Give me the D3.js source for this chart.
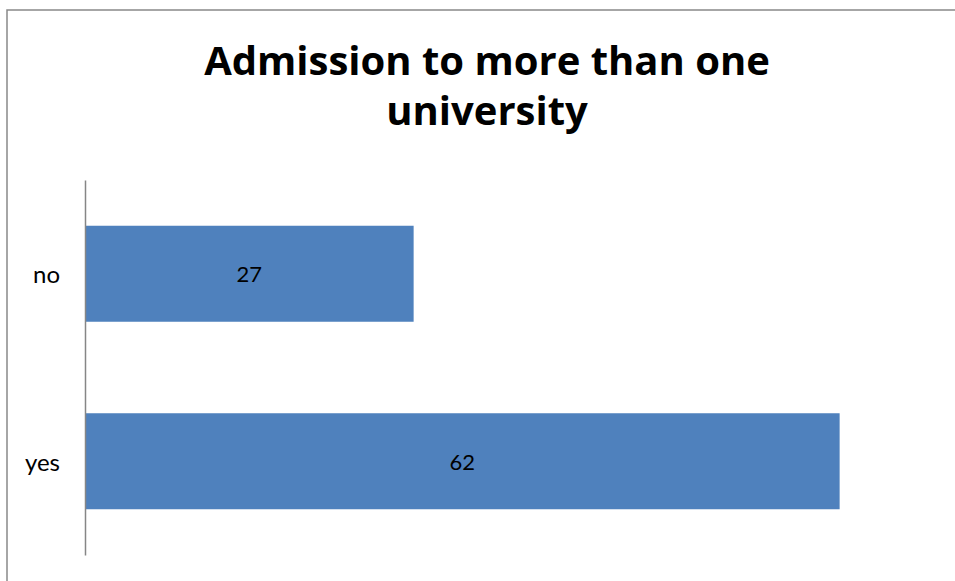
<!DOCTYPE html>
<html>
<head>
<meta charset="utf-8">
<script src="https://cdn.jsdelivr.net/npm/d3@7"></script>
<style>
  body { margin: 0; background: #fff; }
  text { font-family: "Lato", "Open Sans", sans-serif; }
</style>
</head>
<body>
<svg id="chart" width="955" height="581"></svg>
<script>
// data
var categories = ["no", "yes"];
var values = [27, 62];
var titleLines = ["Admission to more than one", "university"];

var svg = d3.select("#chart");

// outer frame (only top and left visible in the crop)
svg.append("path")
  .attr("d", "M7,581 V10 H955")
  .attr("fill", "none")
  .attr("stroke", "#898989")
  .attr("stroke-width", 1.5);

// title
svg.append("g").selectAll("text")
  .data(titleLines)
  .enter().append("text")
  .attr("x", 487)
  .attr("y", function(d, i) { return 75 + i * 50; })
  .attr("text-anchor", "middle")
  .attr("font-size", 40)
  .attr("font-weight", "bold")
  .attr("fill", "#000")
  .style("font-family", "'Open Sans', sans-serif")
  .text(function(d) { return d; });

// scales
var x = d3.scaleLinear().domain([0, 70]).range([85, 937]);
var y = d3.scaleBand().domain(categories).range([180, 555]).paddingInner(0.488).paddingOuter(0.244);

// bars
svg.append("g").selectAll("rect")
  .data(values)
  .enter().append("rect")
  .attr("x", x(0))
  .attr("y", function(d, i) { return y(categories[i]); })
  .attr("width", function(d) { return x(d) - x(0); })
  .attr("height", y.bandwidth())
  .attr("fill", "#4F81BD");

// value labels
svg.append("g").selectAll("text")
  .data(values)
  .enter().append("text")
  .attr("x", function(d) { return (x(0) + x(d)) / 2; })
  .attr("y", function(d, i) { return y(categories[i]) + y.bandwidth() / 2 + 1; })
  .attr("dy", "0.35em")
  .attr("text-anchor", "middle")
  .attr("font-size", 22)
  .attr("fill", "#000")
  .text(function(d) { return d; });

// category axis
var yAxis = d3.axisLeft(y).tickSize(0).tickPadding(25);
var ga = svg.append("g")
  .attr("transform", "translate(" + x(0) + ",0)")
  .call(yAxis);
ga.select(".domain").attr("stroke", "#868686").attr("stroke-width", 1.5);
ga.selectAll("text")
  .attr("font-size", 24)
  .attr("fill", "#000")
  .attr("dy", "0.4em")
  .style("font-family", "Lato, 'Open Sans', sans-serif");
</script>
</body>
</html>
